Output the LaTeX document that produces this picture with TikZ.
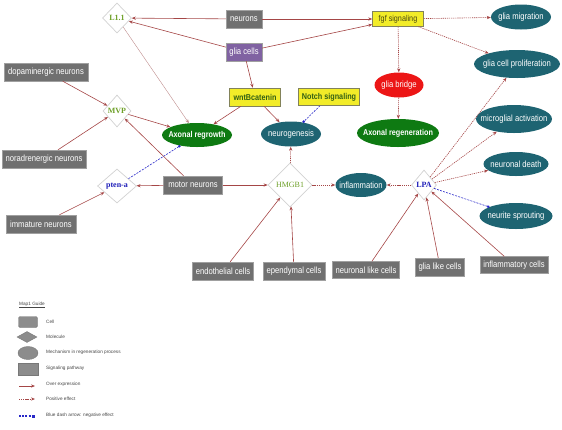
\documentclass[tikz,border=0pt]{standalone}
\usepackage{fontspec}
\setmainfont{Liberation Sans}
\newfontfamily\nar[FakeStretch=0.85]{Liberation Sans}
\newfontfamily\ser{Liberation Serif}
\usetikzlibrary{shapes.geometric,arrows.meta}
\definecolor{cellgray}{RGB}{112,112,112}
\definecolor{cellborder}{RGB}{160,160,160}
\definecolor{sigyellow}{RGB}{242,236,40}
\definecolor{sigborder}{RGB}{130,130,90}
\definecolor{sigtext}{RGB}{50,95,20}
\definecolor{fgftext}{RGB}{70,70,20}
\definecolor{mechteal}{RGB}{30,100,114}
\definecolor{regengreen}{RGB}{14,122,18}
\definecolor{purp}{RGB}{128,98,162}
\definecolor{bridgered}{RGB}{236,22,22}
\definecolor{molborder}{RGB}{210,210,210}
\definecolor{molgreen}{RGB}{110,160,40}
\definecolor{molblue}{RGB}{30,30,185}
\definecolor{edgered}{RGB}{165,70,70}
\definecolor{edgelight}{RGB}{190,140,140}
\definecolor{negblue}{RGB}{40,40,200}
\definecolor{leggray}{RGB}{140,140,140}
\definecolor{legborder}{RGB}{120,120,120}
\definecolor{legtext}{RGB}{70,70,70}
\newcommand\zw[1]{\makebox[0pt]{#1}}
\begin{document}
\begin{tikzpicture}[x=1pt,y=-1pt,
  cellbox/.style={rectangle, fill=cellgray, draw=cellborder, line width=0.4pt, text=white,
    font=\nar\fontsize{9}{10}\selectfont, inner sep=1pt, minimum height=18pt},
  sigbox/.style={rectangle, fill=sigyellow, draw=sigborder, line width=0.5pt, text=sigtext,
    font=\nar\bfseries\fontsize{8.5}{10}\selectfont, inner sep=1pt, minimum height=16pt},
  mech/.style={ellipse, fill=mechteal, text=white, font=\nar\fontsize{9}{10}\selectfont, inner sep=0pt},
  regen/.style={ellipse, fill=regengreen, text=white, font=\nar\bfseries\fontsize{8.5}{10}\selectfont, inner sep=0pt},
  mol/.style={diamond, fill=white, draw=molborder, line width=0.7pt, inner sep=0pt,
    font=\ser\bfseries\fontsize{8}{9}\selectfont},
  overexp/.style={draw=edgered, line width=0.6pt, -{Stealth[length=4pt,width=3.2pt]}},
  poseff/.style={draw=edgered, line width=0.6pt, dash pattern=on 1.2pt off 0.9pt, -{Stealth[length=4pt,width=3.2pt]}},
  negeff/.style={draw=negblue, line width=0.6pt, dash pattern=on 2pt off 1.2pt, -{Square[length=2pt,width=2pt]}},
  legtxt/.style={anchor=west, text=legtext, font=\fontsize{4.7}{5}\selectfont, inner sep=0pt},
  legshape/.style={fill=leggray, draw=legborder, line width=0.4pt, inner sep=0pt}
]
\useasboundingbox (0,0) rectangle (562,429);

% nodes
\node[mol, text=molgreen, minimum width=29pt, minimum height=30pt] (L11) at (117,18) {\zw{L1.1}};
\node[cellbox, minimum width=36pt] (neurons) at (244,19) {neurons};
\node[sigbox, minimum width=51pt, minimum height=15pt, text=fgftext, font=\nar\fontsize{8.5}{10}\selectfont] (fgf) at (398,19) {fgf signaling};
\node[mech, minimum width=60pt, minimum height=25pt] (gmig) at (521,17) {\zw{glia migration}};
\node[cellbox, fill=purp, minimum width=36pt] (glia) at (244,52) {glia cells};
\node[mech, minimum width=86pt, minimum height=28pt] (gprol) at (517,64) {\zw{glia cell proliferation}};
\node[ellipse, fill=bridgered, text=white, inner sep=0pt, font=\nar\fontsize{9}{10}\selectfont, minimum width=49pt, minimum height=25pt] (gbridge) at (399,85) {\zw{glia bridge}};
\node[cellbox, minimum width=84pt] (dopa) at (46,72) {dopaminergic neurons};
\node[mol, text=molgreen, minimum width=28pt, minimum height=32pt] (MVP) at (117,111) {\zw{MVP}};
\node[sigbox, minimum width=51pt, minimum height=18pt] (wnt) at (255,97) {wntBcatenin};
\node[sigbox, minimum width=61pt, minimum height=17pt] (notch) at (329,97) {Notch signaling};
\node[regen, minimum width=70pt, minimum height=24pt] (aregrow) at (197,135) {\zw{Axonal regrowth}};
\node[mech, minimum width=60pt, minimum height=25pt] (neurog) at (291,134) {\zw{neurogenesis}};
\node[regen, minimum width=82pt, minimum height=28pt] (aregen) at (398,133) {\zw{Axonal regeneration}};
\node[mech, minimum width=76pt, minimum height=28pt] (micro) at (514,119) {\zw{microglial activation}};
\node[cellbox, minimum width=84pt] (nora) at (44,159) {noradrenergic neurons};
\node[mol, text=molblue, minimum width=39pt, minimum height=34pt] (pten) at (117,186) {\zw{pten-a}};
\node[cellbox, minimum width=59pt] (motor) at (193,185) {motor neurons};
\node[mol, text=molgreen, font=\ser\fontsize{8}{9}\selectfont, minimum width=44pt, minimum height=44pt] (HMGB) at (290,185) {\zw{HMGB1}};
\node[mech, minimum width=51pt, minimum height=24pt] (inflam) at (361,185) {\zw{inflammation}};
\node[mol, text=molblue, minimum width=25pt, minimum height=30pt] (LPA) at (424,185) {\zw{LPA}};
\node[mech, minimum width=65pt, minimum height=24pt] (ndeath) at (516,164) {\zw{neuronal death}};
\node[mech, minimum width=73pt, minimum height=26pt] (nsprout) at (516,216) {\zw{neurite sprouting}};
\node[cellbox, minimum width=70pt] (immature) at (41,224) {immature neurons};
\node[cellbox, minimum width=61pt] (endo) at (223,271) {endothelial cells};
\node[cellbox, minimum width=62pt] (epen) at (294,271) {ependymal cells};
\node[cellbox, minimum width=67pt, minimum height=17pt] (nlike) at (366,270) {neuronal like cells};
\node[cellbox, minimum width=49pt] (glike) at (440,267) {glia like cells};
\node[cellbox, minimum width=68pt, minimum height=17pt] (infcells) at (514,265) {inflammatory cells};

% connectors
\draw[overexp] (neurons) -- (L11);
\draw[overexp] (neurons) -- (fgf);
\draw[overexp] (glia) -- (L11);
\draw[overexp] (glia) -- (fgf);
\draw[overexp] (glia) -- (wnt);
\draw[poseff] (fgf) -- (gmig);
\draw[poseff] (fgf) -- (gprol);
\draw[poseff] (fgf) -- (gbridge);
\draw[poseff] (gbridge) -- (aregen);
\draw[overexp, draw=edgelight, line width=0.4pt] (L11) -- (aregrow);
\draw[overexp] (dopa) -- (MVP);
\draw[overexp] (nora) -- (MVP);
\draw[overexp] (MVP) -- (aregrow);
\draw[overexp] (motor) -- (MVP);
\draw[overexp] (wnt) -- (aregrow);
\draw[overexp] (wnt) -- (neurog);
\draw[negeff] (notch) -- (neurog);
\draw[negeff] (pten) -- (aregrow);
\draw[overexp] (motor) -- (pten);
\draw[overexp] (immature) -- (pten);
\draw[overexp] (motor) -- (HMGB);
\draw[poseff] (HMGB) -- (neurog);
\draw[poseff] (HMGB) -- (inflam);
\draw[poseff] (LPA) -- (inflam);
\draw[overexp] (endo) -- (HMGB);
\draw[overexp] (epen) -- (HMGB);
\draw[poseff] (LPA) -- (gprol);
\draw[poseff] (LPA) -- (micro);
\draw[poseff] (LPA) -- (ndeath);
\draw[negeff] (LPA) -- (nsprout);
\draw[overexp] (nlike) -- (LPA);
\draw[overexp] (glike) -- (LPA);
\draw[overexp] (infcells) -- (LPA);

% legend
\node[legtxt] (ltitle) at (19,305) {\underline{Map1 Guide}};
\node[legshape, rectangle, rounded corners=1.5pt, minimum width=19pt, minimum height=11pt] (lcell) at (28,322) {};
\node[legshape, diamond, minimum width=20pt, minimum height=11pt] (lmol) at (27,337) {};
\node[legshape, ellipse, minimum width=20pt, minimum height=13pt] (lmech) at (28,353) {};
\node[legshape, rectangle, minimum width=20pt, minimum height=12pt] (lsig) at (28,369) {};
\coordinate (la1) at (19,386); \coordinate (la2) at (35,386);
\coordinate (lb1) at (19,399); \coordinate (lb2) at (35,399);
\coordinate (lc1) at (19,416); \coordinate (lc2) at (35,416);
\draw[overexp, line width=0.7pt] (la1) -- (la2);
\draw[poseff, line width=0.8pt] (lb1) -- (lb2);
\draw[negeff, line width=1.2pt, -{Square[length=3pt,width=3pt]}] (lc1) -- (lc2);
\node[legtxt] (tcell) at (46,322) {Cell};
\node[legtxt] (tmol) at (46,337) {Molecule};
\node[legtxt] (tmech) at (46,352) {Mechanism in regeneration process};
\node[legtxt] (tsig) at (46,368) {Signaling pathway};
\node[legtxt] (tover) at (46,384) {Over expression};
\node[legtxt] (tpos) at (46,399) {Positive effect};
\node[legtxt] (tneg) at (46,415) {Blue dash arrow: negative effect};
\end{tikzpicture}
\end{document}
